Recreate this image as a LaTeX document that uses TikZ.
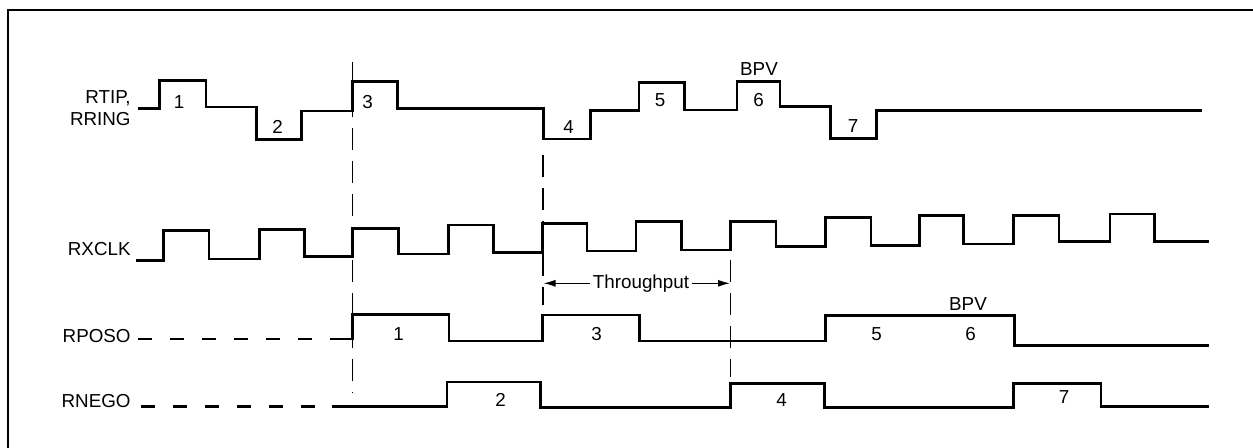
\documentclass[tikz,border=0pt]{standalone}
\usepackage{fontspec}
\setmainfont{Liberation Sans}
\usetikzlibrary{arrows.meta}
\begin{document}
\begin{tikzpicture}
[
 x=0.5pt, y=-0.5pt,
 font=\fontsize{9.4}{11}\selectfont,
 inner sep=0pt,
 WAVE/.style={line width=1.35pt, line join=miter},
 LEAD/.style={line width=1.3pt, dash pattern=on 7pt off 9pt},
 GUIDE/.style={line width=0.9pt, dash pattern=on 11pt off 5.5pt},
 SIG/.style={anchor=east, align=right},
 TPARROW/.style={line width=0.65pt, -{Latex[length=6pt,width=3.5pt]}},
 ],
%
\useasboundingbox (0,0) rectangle (1253,448);
\draw [line width=1.3pt]  (8,460) -- (8,10) -- (1265,10);
%
\node [SIG]  (RT)   at (131,108)    {RTIP,\\RRING};
\node [SIG]  (CK)   at (131,249)    {RXCLK};
\node [SIG]  (PO)   at (131,336)    {RPOSO};
\node [SIG]  (NE)   at (131,401)    {RNEGO};
%
\draw [GUIDE]  (352.4,62)  -- (352.4,393.3);
\draw [GUIDE]  (542.8,155) -- (542.8,305);
\draw [GUIDE]  (730.5,260) -- (730.5,376.7);
%
% RTIP, RRING
\draw [WAVE]  (138,108.5) -| (159.5,80.7) -| (206,107) -| (256.4,139.2) -| (301.5,111)
   -| (352.4,81.5) -| (397.7,108.5) -| (543.5,139) -| (590.5,110.7) -| (639,82.7)
   -| (684.5,110) -| (737,81.7) -| (780,106.7) -| (830.7,138.5) -| (876.5,110.7)
   -- (1202,110.7);
\node  (T1)  at (179,102.5)  {1};
\node  (T2)  at (277.5,126.5)  {2};
\node  (T3)  at (367.5,101.7)  {3};
\node  (T4)  at (568.7,127.5)  {4};
\node  (T5)  at (660,100.5)  {5};
\node  (T6)  at (758.5,100.5)  {6};
\node  (T7)  at (853,126)  {7};
\node  (TB)  at (759,69)  {BPV};
%
% RXCLK
\draw [WAVE]  (136,260.5)
   foreach \x/\y in {163.4/230.7, 209/259, 259.2/229.3, 304.7/256.5,
                     352.4/228.3, 398.5/254, 448.4/225, 493.5/252.3,
                     542.8/223.3, 586.9/251, 636/221.7, 681.2/250,
                     730.5/221.7, 776/246.7, 825.7/217.3, 871/245.5,
                     919.4/215.8, 963.6/244, 1013.6/215.7, 1059/241.7,
                     1110/214, 1154.5/241.7} { -| (\x,\y) }
   -- (1209,241.7);
%
\node  (TP)  at (641,283.3) [inner sep=1.5pt]  {Throughput};
\coordinate (TPL) at (543.5,283.3);
\coordinate (TPR) at (730,283.3);
\draw [TPARROW]  (TP.west) -- (TPL);
\draw [TPARROW]  (TP.east) -- (TPR);
%
% RPOSO
\draw [LEAD]  (138,339) -- (332,339);
\draw [WAVE]  (332,339) -| (352.5,314.5) -| (449,341) -| (542.8,315) -| (639.3,341)
   -| (825.7,315.5) -| (1014.3,345.7) -- (1209,345.7);
\node  (P1)  at (398.5,334)  {1};
\node  (P3)  at (596.5,334)  {3};
\node  (P5)  at (876.5,334.5)  {5};
\node  (P6)  at (970.5,334.5)  {6};
\node  (PB)  at (968,304.5)  {BPV};
%
% RNEGO
\draw [LEAD]  (141,406.7) -- (332,406.7);
\draw [WAVE]  (332,406.7) -| (447,382) -| (540.5,407.3) -| (730.5,383.3) -| (824.3,407.5)
   -| (1013.6,383.3) -| (1101,406.7) -- (1209,406.7);
\node  (N2)  at (500.7,399.5)  {2};
\node  (N4)  at (781.7,400)  {4};
\node  (N7)  at (1064,396.7)  {7};
%
\end{tikzpicture}
\end{document}
